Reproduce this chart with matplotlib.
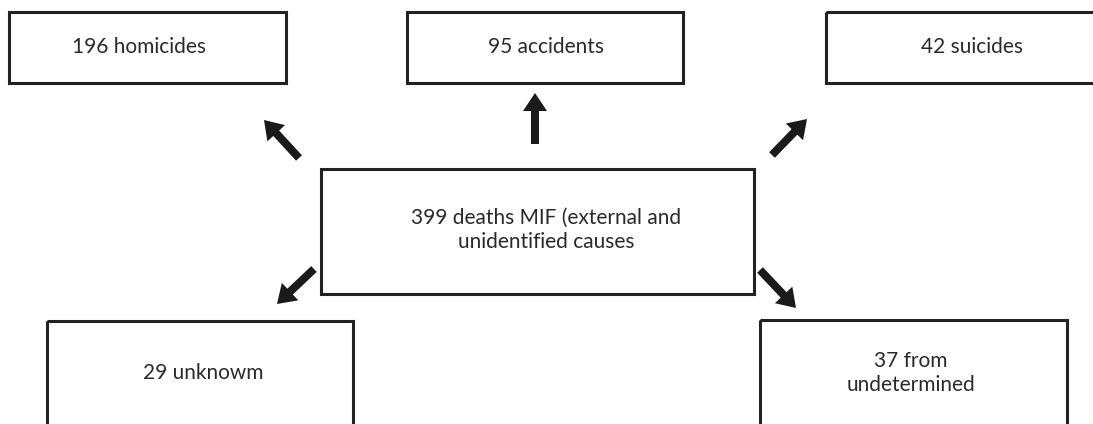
import matplotlib.pyplot as plt
from matplotlib.patches import Rectangle

# data
counts = [399, 196, 95, 42, 29, 37]
labels = ["deaths MIF (external and\nunidentified causes",
          "homicides", "accidents", "suicides", "unknowm", "from\nundetermined"]

# layout (pixel coords, y down): box x0, y0, x1, y1, text x, text y
boxes = [(321, 169, 754, 294, 546, 230),
         (9, 12, 286, 83, 139, 47),
         (407, 12, 683, 83, 546, 47),
         (826, 12, 1110, 83, 972, 47),
         (47, 321, 353, 450, 203, 373),
         (760, 320, 1067, 450, 911, 373)]
# arrows: tail x, tail y, tip x, tip y
arrows = [(299, 158, 264, 120),
          (535, 144, 535, 93),
          (772, 155, 807, 119),
          (314, 269, 277, 304),
          (760, 270, 796, 308)]

plt.rcParams['font.family'] = ['Lato', 'DejaVu Sans']

fig = plt.figure(figsize=(10.93, 4.24), dpi=100)
ax = fig.add_axes([0, 0, 1, 1])
ax.set_xlim(0, 1093)
ax.set_ylim(424, 0)
ax.axis('off')

for (x0, y0, x1, y1, tx, ty), n, lab in zip(boxes, counts, labels):
    ax.add_patch(Rectangle((x0, y0), x1 - x0, y1 - y0, fill=False,
                           edgecolor='#222222', linewidth=2.2))
    ax.text(tx, ty, f"{n} {lab}", ha='center', va='center', fontsize=15,
            color='#2a2a2a', linespacing=1.3)

for x0, y0, x1, y1 in arrows:
    ax.arrow(x0, y0, x1 - x0, y1 - y0, width=8, head_width=24, head_length=18,
             length_includes_head=True, color='#1a1a1a', linewidth=0)

fig.savefig("out.png", dpi=100)
